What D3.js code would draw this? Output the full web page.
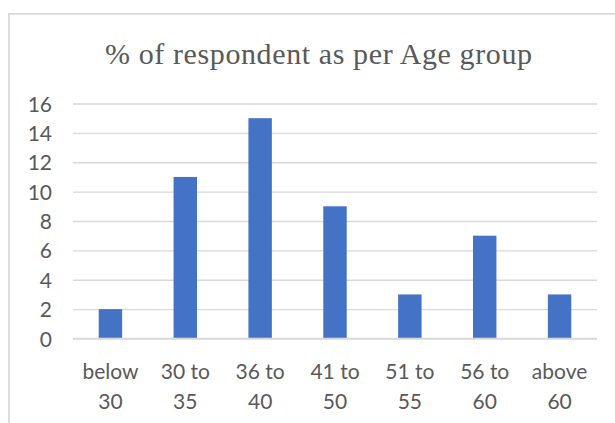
<!DOCTYPE html>
<html>
<head>
<meta charset="utf-8">
<script src="https://cdn.jsdelivr.net/npm/d3@7"></script>
<style>
  html, body { margin: 0; padding: 0; background: #ffffff; }
  svg { display: block; }
</style>
</head>
<body>
<svg id="chart" width="615" height="423"></svg>
<script>
// Age groups and share of respondents (%)
const categories = [["below", "30"], ["30 to", "35"], ["36 to", "40"], ["41 to", "50"], ["51 to", "55"], ["56 to", "60"], ["above", "60"]];
const values = [2, 11, 15, 9, 3, 7, 3];
const yTicks = [0, 2, 4, 6, 8, 10, 12, 14, 16];
const titleText = "% of respondent as per Age group";

const svg = d3.select("#chart");
const W = 615, H = 423;
const plot = { left: 73, right: 597, top: 103.5, bottom: 338.5 };

svg.append("rect").attr("width", W).attr("height", H).attr("fill", "#ffffff");

// chart area frame (only top and left edges fall inside the view)
svg.append("path")
  .attr("d", `M9,${H + 2} V13.8 H${W + 2}`)
  .attr("fill", "none")
  .attr("stroke", "#d9d9d9")
  .attr("stroke-width", 1.8);

svg.append("text")
  .attr("x", 318.5)
  .attr("y", 63.5)
  .attr("text-anchor", "middle")
  .attr("font-family", "'Liberation Serif', 'Times New Roman', serif")
  .attr("font-size", 30)
  .attr("fill", "#595959")
  .attr("textLength", 427)
  .attr("lengthAdjust", "spacing")
  .text(titleText);

const x = d3.scaleBand()
  .domain(categories.map((d, i) => i))
  .range([plot.left, plot.right])
  .paddingInner(0.687)
  .paddingOuter(0.3435);

const y = d3.scaleLinear()
  .domain([0, 16])
  .range([plot.bottom, plot.top]);

// horizontal gridlines with value labels
const yAxis = d3.axisLeft(y)
  .tickValues(yTicks)
  .tickSize(-(plot.right - plot.left))
  .tickPadding(21);

const gy = svg.append("g")
  .attr("transform", `translate(${plot.left},0)`)
  .call(yAxis);
gy.select(".domain").remove();
gy.selectAll(".tick line")
  .attr("stroke", "#d9d9d9")
  .attr("stroke-width", 1.3);
gy.selectAll(".tick text")
  .attr("font-family", "Lato, 'Open Sans', sans-serif")
  .attr("font-size", 21)
  .attr("fill", "#595959")
  .attr("dy", "0.36em");

// bars
svg.append("g")
  .selectAll("rect")
  .data(values)
  .join("rect")
  .attr("x", (d, i) => x(i))
  .attr("width", x.bandwidth())
  .attr("y", d => y(d))
  .attr("height", d => y(0) - y(d))
  .attr("fill", "#4472c4");

// category axis
const gx = svg.append("g")
  .attr("transform", `translate(0,${plot.bottom})`);
gx.append("line")
  .attr("x1", plot.left).attr("x2", plot.right)
  .attr("stroke", "#d9d9d9")
  .attr("stroke-width", 1.3);

const labels = gx.selectAll("text")
  .data(categories)
  .join("text")
  .attr("text-anchor", "middle")
  .attr("font-family", "Lato, 'Open Sans', sans-serif")
  .attr("font-size", 21)
  .attr("fill", "#595959");

labels.selectAll("tspan")
  .data((d, i) => d.map(line => ({ line, i })))
  .join("tspan")
  .attr("x", d => x(d.i) + x.bandwidth() / 2)
  .attr("y", (d, j) => 40 + j * 30)
  .text(d => d.line);
</script>
</body>
</html>
